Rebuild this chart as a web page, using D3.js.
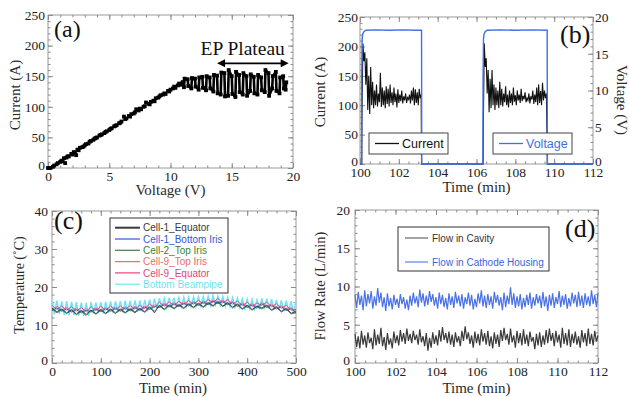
<!DOCTYPE html>
<html><head><meta charset="utf-8">
<script src="https://cdn.jsdelivr.net/npm/d3@7"></script>
<style>body{margin:0;background:#fff}svg{display:block}</style>
</head><body><svg id="c" width="630" height="397"></svg>
<script>
// ---------- (a) I-V curve ----------
const ivVoltage = [0.0,0.1,0.2,0.4,0.5,0.7,0.8,1.0,1.1,1.2,1.3,1.4,1.5,1.6,1.7,1.9,2.0,2.1,2.2,2.3,2.4,2.5,2.6,2.8,2.9,3.0,3.1,3.3,3.4,3.5,3.7,3.8,3.9,4.0,4.2,4.3,4.4,4.6,4.7,4.8,5.0,5.1,5.2,5.4,5.5,5.6,5.8,5.9,6.0,6.2,6.3,6.4,6.6,6.7,6.8,7.0,7.1,7.2,7.4,7.5,7.6,7.8,7.9,8.0,8.2,8.3,8.4,8.6,8.7,8.8,9.0,9.1,9.2,9.4,9.5,9.6,9.8,9.9,10.0,10.2,10.3,10.4,10.6,10.7,10.8,11.0];
const ivCurrent = [0,0,0,2,4,6,8,10,12,11,16,8,17,19,19,23,22,26,25,21,30,29,33,34,35,37,39,40,43,44,46,48,49,50,53,54,55,57,59,60,62,64,65,68,69,70,73,74,76,84,80,81,85,84,88,89,91,96,94,97,96,100,101,107,105,104,108,110,109,114,115,117,119,120,122,121,126,125,128,130,133,131,135,138,136,140];
const plateauVoltage = [11.1,11.4,11.7,12.0,12.3,12.6,12.9,13.2,13.5,13.8,14.1,14.4,14.7,15.0,15.3,15.6,15.9,16.2,16.5,16.8,17.1,17.4,17.7,18.0,18.3,18.6,18.9,19.2,19.4];
const plateauLow  = [132,134,130,133,128,131,127,130,125,122,120,117,118,121,116,124,120,118,126,122,120,127,124,118,130,126,122,130,128];
const plateauHigh = [146,145,147,146,148,149,150,148,152,151,156,155,160,150,157,152,155,150,153,149,152,148,160,155,150,157,148,150,140];

// ---------- (b) current / voltage vs time ----------
const burst1Start = 100.10, burst2Start = 106.35, burstStep = 0.05;
const burst1Current = [80,205,175,190,135,180,92,150,85,165,100,140,95,125,100,135,98,120,105,155,97,130,100,125,95,132,102,128,98,135,104,122,100,130,105,120,96,127,104,118,107,125,103,115,108,120,104,113,110,118,103,125,108,130,100,127,104,122,100,128,112,118];
const burst2Current = [60,205,165,180,120,160,88,145,95,160,100,135,92,130,100,125,95,140,100,128,98,120,105,132,100,118,96,125,104,120,100,130,106,117,100,125,108,118,104,128,107,116,110,122,105,112,108,120,103,115,110,125,102,118,105,130,100,135,104,124,100,138,108,125,112,120];
const burst1End = 103.17, burst2End = 109.65;
const voltTime  = [100,100.08,100.09,100.11,100.14,100.2,100.3,100.8,101.5,102.2,102.9,103.17,103.18,106.33,106.34,106.36,106.39,106.45,106.55,107.2,108.0,108.8,109.64,109.65,112];
const voltValue = [0,0,12,17.0,17.7,18.0,18.2,18.25,18.2,18.25,18.2,18.2,0,0,12,17.0,17.7,18.0,18.2,18.25,18.2,18.25,18.2,0,0];

// ---------- (c) temperatures ----------
const tempNames = ["Cell-1_Equator","Cell-1_Bottom Iris","Cell-2_Top Iris","Cell-9_Top Iris","Cell-9_Equator","Bottom Beampipe"];
const tempColors = ["#3a3a3a","#3355dd","#3b7f3b","#ee6b6b","#e6437c","#72e2f4"];
const tempCell1Eq = [14.4,13.5,14.2,13.2,14.0,12.9,13.8,12.8,13.9,13.0, 14.1,13.1,14.2,13.2,14.2,13.3,14.3,13.4,14.4,13.5, 14.8,13.2,15.2,14.2,15.3,14.4,15.4,14.5,15.6,14.7, 15.7,14.8,15.9,15.1,16.2,15.0,15.9,14.7,15.5,14.3, 15.2,14.1,15.0,14.5,15.2,14.0,14.8,13.6,14.4,13.1,13.5];
const tempCell1Iris = [13.8,14.5,13.6,14.3,13.4,14.1,13.2,13.9,13.4,14.2, 13.5,14.3,13.6,14.4,13.6,14.5,13.7,14.6,13.8,14.7, 14.1,14.9,14.6,15.4,14.7,15.6,14.8,15.7,15.0,15.9, 15.1,16.0,15.3,16.3,15.6,16.2,15.3,15.9,14.9,15.5, 14.6,15.3,14.4,15.6,14.6,15.2,14.2,14.8,13.8,14.3,13.2];
const tempCell2Top = [14.2,13.2,14.0,13.0,13.8,12.7,13.6,12.5,13.8,12.8, 13.9,12.9,14.0,13.0,14.0,13.1,14.1,13.2,14.2,13.3, 14.5,13.6,15.0,14.0,15.1,14.2,15.2,14.3,15.4,14.5, 15.5,14.6,15.7,14.9,16.0,14.8,15.7,14.5,15.3,14.1, 15.0,13.9,14.8,14.2,15.0,13.8,14.6,13.4,14.2,12.9,13.2];
const tempCell9Top = [14.1,14.9,13.9,14.7,13.7,14.5,13.5,14.3,13.7,14.5, 13.8,14.6,13.9,14.7,13.9,14.8,14.0,14.9,14.1,15.0, 14.4,15.3,14.9,15.7,15.0,15.9,15.1,16.1,15.3,16.2, 15.4,16.3,15.6,16.6,15.9,16.5,15.6,16.2,15.2,15.8, 14.9,15.6,14.7,15.9,14.9,15.5,14.5,15.1,14.1,14.6,13.6];
const tempCell9Eq = [15.2,14.1,15.0,13.9,14.8,13.7,14.6,13.5,14.8,13.8, 14.9,13.9,15.0,14.0,15.0,14.1,15.1,14.2,15.2,14.3, 15.5,14.6,16.0,15.0,16.1,15.2,16.2,15.4,16.4,15.5, 16.5,15.6,16.7,15.9,17.0,15.8,16.7,15.5,16.3,15.1, 16.0,14.9,15.8,15.2,16.0,14.8,15.6,14.4,15.2,13.9,14.1];
const tempBeampipe = [16.3,12.8,16.4,12.9,16.2,12.7,16.3,12.6,16.1,12.6,16.0,12.5,15.9,12.4,15.8,12.4,16.0,13.0,15.9,13.1,
 16.0,13.1,16.1,13.2,16.2,13.2,16.2,13.3,16.3,13.3,16.4,13.4,16.4,13.5,16.5,13.5,16.5,13.6,16.6,13.6,
 16.7,14.0,16.9,14.4,17.0,14.5,17.0,14.6,17.1,14.6,17.2,14.7,17.2,14.8,17.3,14.9,17.3,14.9,17.4,15.0,
 17.4,15.0,17.5,15.1,17.6,15.2,17.7,15.3,17.6,15.2,17.5,15.0,17.3,14.9,17.2,14.7,17.0,14.6,16.9,14.4,
 16.8,14.3,16.7,14.2,16.6,14.1,17.0,14.5,16.9,14.3,16.8,14.1,16.6,13.9,16.5,13.7,16.4,13.5,16.3,13.2,16.2];

// ---------- (d) flow rates ----------
const flowStart = 100, flowStep = 0.08;
const flowCavity = [3.8,2.1,3.5,1.9,4.2,2.4,3.6,2.0,4.0,2.6,3.3,1.8,4.4,2.3,3.7,2.5,4.6,2.2,3.4,1.7,
3.9,2.4,3.2,1.9,4.1,2.6,3.6,2.3,4.3,2.8,3.9,2.5,4.5,2.9,3.8,2.6,4.2,3.0,3.7,2.4,
4.4,2.7,3.5,2.2,3.9,1.6,3.3,2.0,4.0,2.5,3.6,2.3,4.3,2.8,4.7,3.0,3.9,2.6,4.1,2.4,
3.7,2.1,4.0,2.7,3.5,2.2,4.2,2.9,4.8,3.1,4.0,2.5,3.6,2.0,4.1,2.6,3.8,2.3,4.4,2.8,
3.9,2.4,4.2,2.2,3.5,1.9,4.0,2.5,3.7,2.1,4.3,2.9,4.6,3.0,3.8,2.4,4.5,2.7,3.6,2.0,
4.2,2.6,3.9,2.3,4.4,2.5,3.7,2.2,4.1,2.8,3.4,1.8,3.8,2.3,4.0,2.1,3.6,2.4,4.3,2.6,
4.5,2.9,3.9,2.2,4.2,2.7,3.7,2.0,4.6,2.5,3.9,2.3,4.4,2.1,3.8,2.6,4.1,2.4,3.5,2.0,
4.3,2.7,3.9,2.2,4.5,2.5,3.8,2.3,4.2,2.8,3.6];
const flowCathode = [8.9,7.2,9.3,7.6,8.8,6.9,9.5,7.4,9.0,7.8,9.4,7.1,8.7,7.5,9.8,7.9,9.2,7.3,8.6,6.8,
9.1,7.4,8.5,7.0,8.9,7.6,8.4,7.2,9.0,7.7,8.6,7.1,8.3,6.9,8.8,7.5,9.2,7.8,8.7,7.3,
9.6,7.9,9.1,7.4,8.8,7.6,9.4,8.0,9.0,7.5,8.6,7.1,9.2,7.7,8.9,7.3,8.5,7.0,9.1,7.6,
8.7,7.2,9.3,7.8,8.8,7.4,9.0,7.1,8.6,7.7,9.2,7.5,8.9,7.0,8.4,7.3,9.1,7.8,9.5,7.4,
8.8,7.2,9.0,7.6,8.7,7.1,9.3,7.9,8.9,7.5,8.6,6.9,9.2,7.3,8.8,7.7,9.9,7.6,9.1,7.2,
8.7,7.4,9.0,7.0,8.5,7.3,8.9,7.6,9.2,7.1,8.6,7.5,9.0,7.8,8.8,7.2,9.3,7.4,8.7,6.8,
8.9,7.5,9.1,7.2,8.6,7.7,9.4,7.3,8.8,7.6,9.0,7.1,8.5,7.4,9.2,7.8,8.9,7.3,9.3,7.5,
8.8,7.2,9.1,7.6,8.7,7.4,9.5,7.7,8.9,7.3,9.2];

// ================= drawing =================
const svg = d3.select('#c');
const serif = '"Liberation Serif","Times New Roman",Times,serif';
const sans = '"Liberation Sans",Arial,Helvetica,sans-serif';

function panel(o) {
  const g = svg.append('g');
  const x = d3.scaleLinear().domain(o.xDomain).range([o.left, o.right]);
  const y = d3.scaleLinear().domain(o.yDomain).range([o.bottom, o.top]);
  const tickAxis = (fn, scale, vals, size, tr, labels, pad) => {
    const a = fn(scale).tickValues(vals).tickSize(size).tickPadding(pad);
    if (!labels) a.tickFormat('');
    const ag = g.append('g').attr('transform', tr).call(a);
    ag.select('.domain').remove();
    ag.selectAll('line').attr('stroke', '#8a8a8a');
    ag.selectAll('text').attr('font-family', serif).attr('font-size', 13.5).attr('font-weight', 400).attr('fill', '#222');
    return ag;
  };
  const xMaj = d3.range(o.xDomain[0], o.xDomain[1] + 1e-9, o.xMajor);
  const xMin = d3.range(o.xDomain[0], o.xDomain[1] + 1e-9, o.xMinor);
  const yMaj = d3.range(o.yDomain[0], o.yDomain[1] + 1e-9, o.yMajor);
  const yMin = d3.range(o.yDomain[0], o.yDomain[1] + 1e-9, o.yMinor);
  g.append('rect').attr('x', o.left).attr('y', o.top).attr('width', o.right - o.left)
    .attr('height', o.bottom - o.top).attr('fill', 'none').attr('stroke', '#9a9a9a');
  tickAxis(d3.axisBottom, x, xMin, -2.5, `translate(0,${o.bottom})`, false, 0);
  tickAxis(d3.axisTop, x, xMin, -2.5, `translate(0,${o.top})`, false, 0);
  tickAxis(d3.axisTop, x, xMaj, -5, `translate(0,${o.top})`, false, 0);
  tickAxis(d3.axisBottom, x, xMaj, -5, `translate(0,${o.bottom})`, true, o.xPad);
  tickAxis(d3.axisLeft, y, yMin, -2.5, `translate(${o.left},0)`, false, 0);
  const yl = tickAxis(d3.axisLeft, y, yMaj, -5, `translate(${o.left},0)`, true, o.yPad);
  // lift the lowest label slightly so it does not collide with the first x label
  yl.selectAll('text').filter(d => d === o.yDomain[0]).attr('dy', '0.1em');
  if (!o.y2) {
    tickAxis(d3.axisRight, y, yMin, -2.5, `translate(${o.right},0)`, false, 0);
    tickAxis(d3.axisRight, y, yMaj, -5, `translate(${o.right},0)`, false, 0);
  }
  g.append('text').attr('x', (o.left + o.right) / 2 + (o.xTitleDx || 0)).attr('y', o.xTitleY)
    .attr('text-anchor', 'middle').attr('font-family', serif).attr('font-size', 15).attr('font-weight', 400).attr('fill', '#2a2a2a').text(o.xTitle);
  g.append('text').attr('transform', `translate(${o.yTitleX},${o.yTitleY}) rotate(-90)`)
    .attr('text-anchor', 'middle').attr('font-family', serif).attr('font-size', o.yTitleSize || 15).attr('font-weight', 400).attr('fill', '#2a2a2a').text(o.yTitle);
  g.append('text').attr('x', o.tagX).attr('y', o.tagY).attr('font-family', serif)
    .attr('font-size', o.tagSize || 26).attr('fill', '#111').text(o.tag);
  return {g, x, y, tickAxis};
}

// ---------- panel (a) ----------
{
  const P = panel({left: 48, right: 293, top: 15, bottom: 168, xDomain: [0, 20], yDomain: [0, 250],
    xMajor: 5, xMinor: 1, yMajor: 50, yMinor: 10, xPad: 3, yPad: 3,
    xTitle: 'Voltage (V)', xTitleY: 195, yTitle: 'Current (A)', yTitleX: 20, yTitleY: 95,
    tag: '(a)', tagX: 54, tagY: 37, tagSize: 24});
  const {g, x, y} = P;
  const rise = ivVoltage.map((v, i) => [v, ivCurrent[i]]);
  const plat = [rise[rise.length - 1]];
  plateauVoltage.forEach((v, i) => {
    const lo = plateauLow[i], hi = plateauHigh[i];
    if (i % 2 === 0) { plat.push([v, lo]); plat.push([v + 0.05, hi]); }
    else { plat.push([v, hi]); plat.push([v + 0.05, lo]); }
  });
  g.append('path').datum(plat).attr('fill', 'none').attr('stroke', '#000').attr('stroke-width', 2.6)
    .attr('stroke-linejoin', 'round').attr('d', d3.line().x(d => x(d[0])).y(d => y(d[1])));
  g.append('g').selectAll('rect').data(rise.concat(plat)).join('rect')
    .attr('x', d => x(d[0]) - 1.9).attr('y', d => y(d[1]) - 1.9).attr('width', 3.8).attr('height', 3.8).attr('fill', '#000');
  g.append('text').attr('x', x(12.45)).attr('y', y(184)).attr('font-family', serif).attr('font-size', 19.5)
    .attr('fill', '#111').text('EP Plateau');
  const ay = y(171), ax1 = x(13.8), ax2 = x(19.65);
  g.append('line').attr('x1', ax1 + 4).attr('x2', ax2 - 4).attr('y1', ay).attr('y2', ay).attr('stroke', '#000').attr('stroke-width', 1.8);
  g.append('path').attr('d', `M${ax1},${ay}l8,-4l0,8z`).attr('fill', '#000');
  g.append('path').attr('d', `M${ax2},${ay}l-8,-4l0,8z`).attr('fill', '#000');
}

// ---------- panel (b) ----------
{
  const P = panel({left: 360, right: 593, top: 17, bottom: 164, xDomain: [100, 112], yDomain: [0, 250],
    xMajor: 2, xMinor: 0.5, yMajor: 50, yMinor: 10, xPad: 3, yPad: 2, y2: true,
    xTitle: 'Time (min)', xTitleY: 192, yTitle: 'Current (A)', yTitleX: 325, yTitleY: 92,
    tag: '(b)', tagX: 560, tagY: 43, tagSize: 26});
  const {g, x, y, tickAxis} = P;
  const y2 = d3.scaleLinear().domain([0, 20]).range([164, 17]);
  tickAxis(d3.axisRight, y2, d3.range(0, 20.01, 1), -2.5, 'translate(593,0)', false, 0);
  const yr = tickAxis(d3.axisRight, y2, d3.range(0, 20.01, 5), -5, 'translate(593,0)', true, 2);
  yr.selectAll('text').filter(d => d === 0).attr('dy', '0.1em');
  g.append('text').attr('transform', 'translate(617,100) rotate(90)').attr('text-anchor', 'middle')
    .attr('font-family', serif).attr('font-size', 15).attr('fill', '#2a2a2a').text('Voltage (V)');
  const cur = [[100, 0], [burst1Start - 0.01, 0]];
  burst1Current.forEach((c, i) => cur.push([burst1Start + i * burstStep, c]));
  cur.push([burst1End, 0], [burst2Start - 0.01, 0]);
  burst2Current.forEach((c, i) => cur.push([burst2Start + i * burstStep, c]));
  cur.push([burst2End, 0], [112, 0]);
  g.append('path').datum(cur).attr('fill', 'none').attr('stroke', '#111').attr('stroke-width', 1.1)
    .attr('d', d3.line().x(d => x(d[0])).y(d => y(d[1])));
  const volt = voltTime.map((t, i) => [t, voltValue[i]]);
  g.append('path').datum(volt).attr('fill', 'none').attr('stroke', '#3e6fe6').attr('stroke-width', 1.4)
    .attr('d', d3.line().x(d => x(d[0])).y(d => y2(d[1])));
  const leg = (bx, label, color) => {
    g.append('rect').attr('x', bx).attr('y', 133).attr('width', 79).attr('height', 21).attr('fill', '#fff').attr('stroke', '#444');
    g.append('line').attr('x1', bx + 6).attr('x2', bx + 30).attr('y1', 143.5).attr('y2', 143.5).attr('stroke', color).attr('stroke-width', 1.3);
    g.append('text').attr('x', bx + 33).attr('y', 148).attr('font-family', sans).attr('font-size', 12.5).attr('fill', color).text(label);
  };
  leg(369, 'Current', '#111');
  leg(493, 'Voltage', '#3e6fe6');
}

// ---------- panel (c) ----------
{
  const P = panel({left: 52, right: 296, top: 211, bottom: 363, xDomain: [0, 500], yDomain: [0, 40],
    xMajor: 100, xMinor: 20, yMajor: 10, yMinor: 2, xPad: 3, yPad: 4,
    xTitle: 'Time (min)', xTitleY: 393, xTitleDx: -1, yTitle: 'Temperature (˚C)', yTitleX: 24, yTitleY: 285, yTitleSize: 14,
    tag: '(c)', tagX: 54, tagY: 229, tagSize: 26});
  const {g, x, y} = P;
  const t10 = d3.range(0, 501, 10), t5 = d3.range(0, 501, 5);
  const series = [tempCell1Eq, tempCell1Iris, tempCell2Top, tempCell9Top, tempCell9Eq, tempBeampipe];
  const line = d3.line().x(d => x(d[0])).y(d => y(d[1]));
  [5, 3, 4, 1, 2, 0].forEach(k => {
    const tt = k === 5 ? t5 : t10;
    const data = series[k].map((v, i) => [tt[i], v]);
    g.append('path').datum(data).attr('fill', 'none').attr('stroke', tempColors[k])
      .attr('stroke-width', k === 5 ? 1.5 : 0.9).attr('d', line);
  });
  g.append('rect').attr('x', 110).attr('y', 218).attr('width', 118).attr('height', 75).attr('fill', '#fff').attr('stroke', '#333');
  tempNames.forEach((nm, i) => {
    const yy = 227.7 + i * 11.3;
    g.append('line').attr('x1', 115).attr('x2', 140).attr('y1', yy).attr('y2', yy)
      .attr('stroke', tempColors[i]).attr('stroke-width', i === 0 ? 2 : 1.2);
    g.append('text').attr('x', 143).attr('y', yy + 3.6).attr('font-family', sans).attr('font-size', 10)
      .attr('fill', tempColors[i]).text(nm);
  });
}

// ---------- panel (d) ----------
{
  const P = panel({left: 355, right: 598, top: 210, bottom: 363, xDomain: [100, 112], yDomain: [0, 20],
    xMajor: 2, xMinor: 0.5, yMajor: 5, yMinor: 1, xPad: 3, yPad: 5,
    xTitle: 'Time (min)', xTitleY: 393, yTitle: 'Flow Rate (L/min)', yTitleX: 325, yTitleY: 286, yTitleSize: 14.5,
    tag: '(d)', tagX: 565, tagY: 237, tagSize: 26});
  const {g, x, y} = P;
  const line = d3.line().x(d => x(d[0])).y(d => y(d[1]));
  g.append('path').datum(flowCathode.map((v, i) => [flowStart + i * flowStep, v])).attr('fill', 'none')
    .attr('stroke', '#4a72e6').attr('stroke-width', 1.2).attr('d', line);
  g.append('path').datum(flowCavity.map((v, i) => [flowStart + i * flowStep, v])).attr('fill', 'none')
    .attr('stroke', '#3a3a3a').attr('stroke-width', 1.2).attr('d', line);
  g.append('rect').attr('x', 398).attr('y', 227).attr('width', 151).attr('height', 44).attr('fill', '#fff').attr('stroke', '#333');
  [['Flow in Cavity', '#333', '#666'], ['Flow in Cathode Housing', '#3a5fe0', '#5a80ee']].forEach((e, i) => {
    const yy = 238 + i * 24;
    g.append('line').attr('x1', 405).attr('x2', 428).attr('y1', yy).attr('y2', yy).attr('stroke', e[2]).attr('stroke-width', 1.2);
    g.append('text').attr('x', 432).attr('y', yy + 3.6).attr('font-family', sans).attr('font-size', 10).attr('fill', e[1]).text(e[0]);
  });
}
</script></body></html>
